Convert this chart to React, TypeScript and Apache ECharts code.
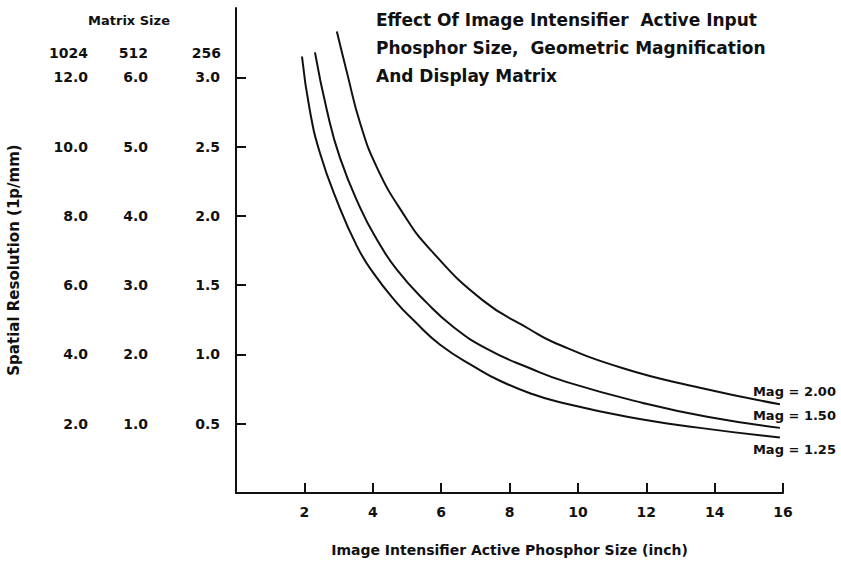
import React, { useEffect, useRef } from "react";
import * as echarts from "echarts";

const xTicks = [2, 4, 6, 8, 10, 12, 14, 16];
const y256Ticks = [0.5, 1.0, 1.5, 2.0, 2.5, 3.0];
const y512Ticks = [1, 2, 3, 4, 5, 6];
const y1024Ticks = [2, 4, 6, 8, 10, 12];
const matrixHeaders = ["1024", "512", "256"];

const mag125: [number, number][] = [
  [1.93, 3.15], [2.16, 2.76], [2.46, 2.45], [2.95, 2.11], [3.54, 1.78], [4.01, 1.59],
  [4.71, 1.37], [5.18, 1.25], [5.97, 1.07], [7.05, 0.9], [7.72, 0.81], [8.6, 0.72],
  [9.39, 0.66], [11.44, 0.55], [13.57, 0.47], [15.91, 0.4],
];
const mag150: [number, number][] = [
  [2.31, 3.18], [2.66, 2.76], [3.04, 2.42], [3.63, 2.06], [4.12, 1.83], [4.71, 1.61],
  [5.59, 1.37], [6.35, 1.2], [7.34, 1.04], [8.6, 0.9], [9.68, 0.8], [11.9, 0.65],
  [13.78, 0.55], [15.91, 0.47],
];
const mag200: [number, number][] = [
  [2.95, 3.33], [3.25, 3.03], [3.63, 2.67], [4.12, 2.35], [4.88, 2.02], [5.67, 1.76],
  [7.22, 1.39], [8.6, 1.18], [9.27, 1.09], [11.32, 0.9], [13.57, 0.76],
  [15.91, 0.64],
];
const seriesNames = ["Mag = 2.00", "Mag = 1.50", "Mag = 1.25"];

const FONT = "'DejaVu Sans', Verdana, sans-serif";
const INK = "#111";

export default function App() {
  const ref = useRef<HTMLDivElement>(null);
  useEffect(() => {
    if (!ref.current) return;
    const chart = echarts.init(ref.current, null, { renderer: "svg" });
    const lbl = { fontFamily: FONT, fontWeight: "bold" as const, fontSize: 14, color: INK };
    const mkSeries = (name: string, data: [number, number][], offY: number) => ({
      type: "line",
      name,
      data,
      smooth: 0.5,
      showSymbol: false,
      symbol: "none",
      lineStyle: { color: INK, width: 2 },
      endLabel: {
        show: true,
        formatter: name,
        offset: [-35, offY],
        ...lbl,
        fontSize: 13,
      },
    });
    chart.setOption({
      animation: false,
      backgroundColor: "#fff",
      title: {
        text: "Effect Of Image Intensifier  Active Input\nPhosphor Size,  Geometric Magnification\nAnd Display Matrix",
        left: 376,
        top: 6,
        padding: 0,
        textStyle: { fontFamily: FONT, fontWeight: "bold", fontSize: 17, lineHeight: 28, color: INK },
      },
      grid: { left: 236, right: 58, top: 8, bottom: 72, containLabel: false, outerBoundsMode: "none" },
      xAxis: {
        type: "value",
        min: 0,
        max: 16,
        interval: 2,
        splitLine: { show: false },
        axisLine: { show: true, lineStyle: { color: INK, width: 2 } },
        axisTick: { show: true, inside: true, length: 10, customValues: xTicks, lineStyle: { color: INK, width: 2 } },
        axisLabel: { ...lbl, margin: 12, customValues: xTicks },
        name: "Image Intensifier Active Phosphor Size (inch)",
        nameLocation: "middle",
        nameGap: 50,
        nameTextStyle: { fontFamily: FONT, fontWeight: "bold", fontSize: 14, color: INK },
      },
      yAxis: [
        {
          type: "value",
          min: 0,
          max: 3.5,
          interval: 0.5,
          position: "left",
          splitLine: { show: false },
          axisLine: { show: true, lineStyle: { color: INK, width: 2 } },
          axisTick: { show: true, inside: true, length: 10, customValues: y256Ticks, lineStyle: { color: INK, width: 2 } },
          axisLabel: { ...lbl, margin: 16, customValues: y256Ticks, formatter: (v: number) => v.toFixed(1) },
        },
        {
          type: "value",
          min: 0,
          max: 7,
          interval: 1,
          position: "left",
          offset: 72,
          splitLine: { show: false },
          axisLine: { show: false },
          axisTick: { show: false },
          axisLabel: { ...lbl, margin: 16, customValues: y512Ticks, formatter: (v: number) => v.toFixed(1) },
        },
        {
          type: "value",
          min: 0,
          max: 14,
          interval: 2,
          position: "left",
          offset: 132,
          splitLine: { show: false },
          axisLine: { show: false },
          axisTick: { show: false },
          axisLabel: { ...lbl, margin: 16, customValues: y1024Ticks, formatter: (v: number) => v.toFixed(1) },
        },
      ],
      graphic: [
        { type: "text", x: 129, y: 20, style: { text: "Matrix Size", fill: INK, font: `bold 13px ${FONT}`, textAlign: "center", textVerticalAlign: "middle" } },
        { type: "text", x: 88, y: 53, style: { text: matrixHeaders[0], fill: INK, font: `bold 14px ${FONT}`, textAlign: "right", textVerticalAlign: "middle" } },
        { type: "text", x: 148, y: 53, style: { text: matrixHeaders[1], fill: INK, font: `bold 14px ${FONT}`, textAlign: "right", textVerticalAlign: "middle" } },
        { type: "text", x: 221, y: 53, style: { text: matrixHeaders[2], fill: INK, font: `bold 14px ${FONT}`, textAlign: "right", textVerticalAlign: "middle" } },
        {
          type: "text",
          x: 14,
          y: 260,
          rotation: Math.PI / 2,
          style: { text: "Spatial Resolution (1p/mm)", fill: INK, font: `bold 15px ${FONT}`, textAlign: "center", textVerticalAlign: "middle" },
        },
      ],
      series: [
        mkSeries(seriesNames[0], mag200, -13),
        mkSeries(seriesNames[1], mag150, -12),
        mkSeries(seriesNames[2], mag125, 12),
      ],
    });
    return () => chart.dispose();
  }, []);
  return <div ref={ref} style={{ position: "fixed", left: 0, top: 0, width: 841, height: 565 }} />;
}
